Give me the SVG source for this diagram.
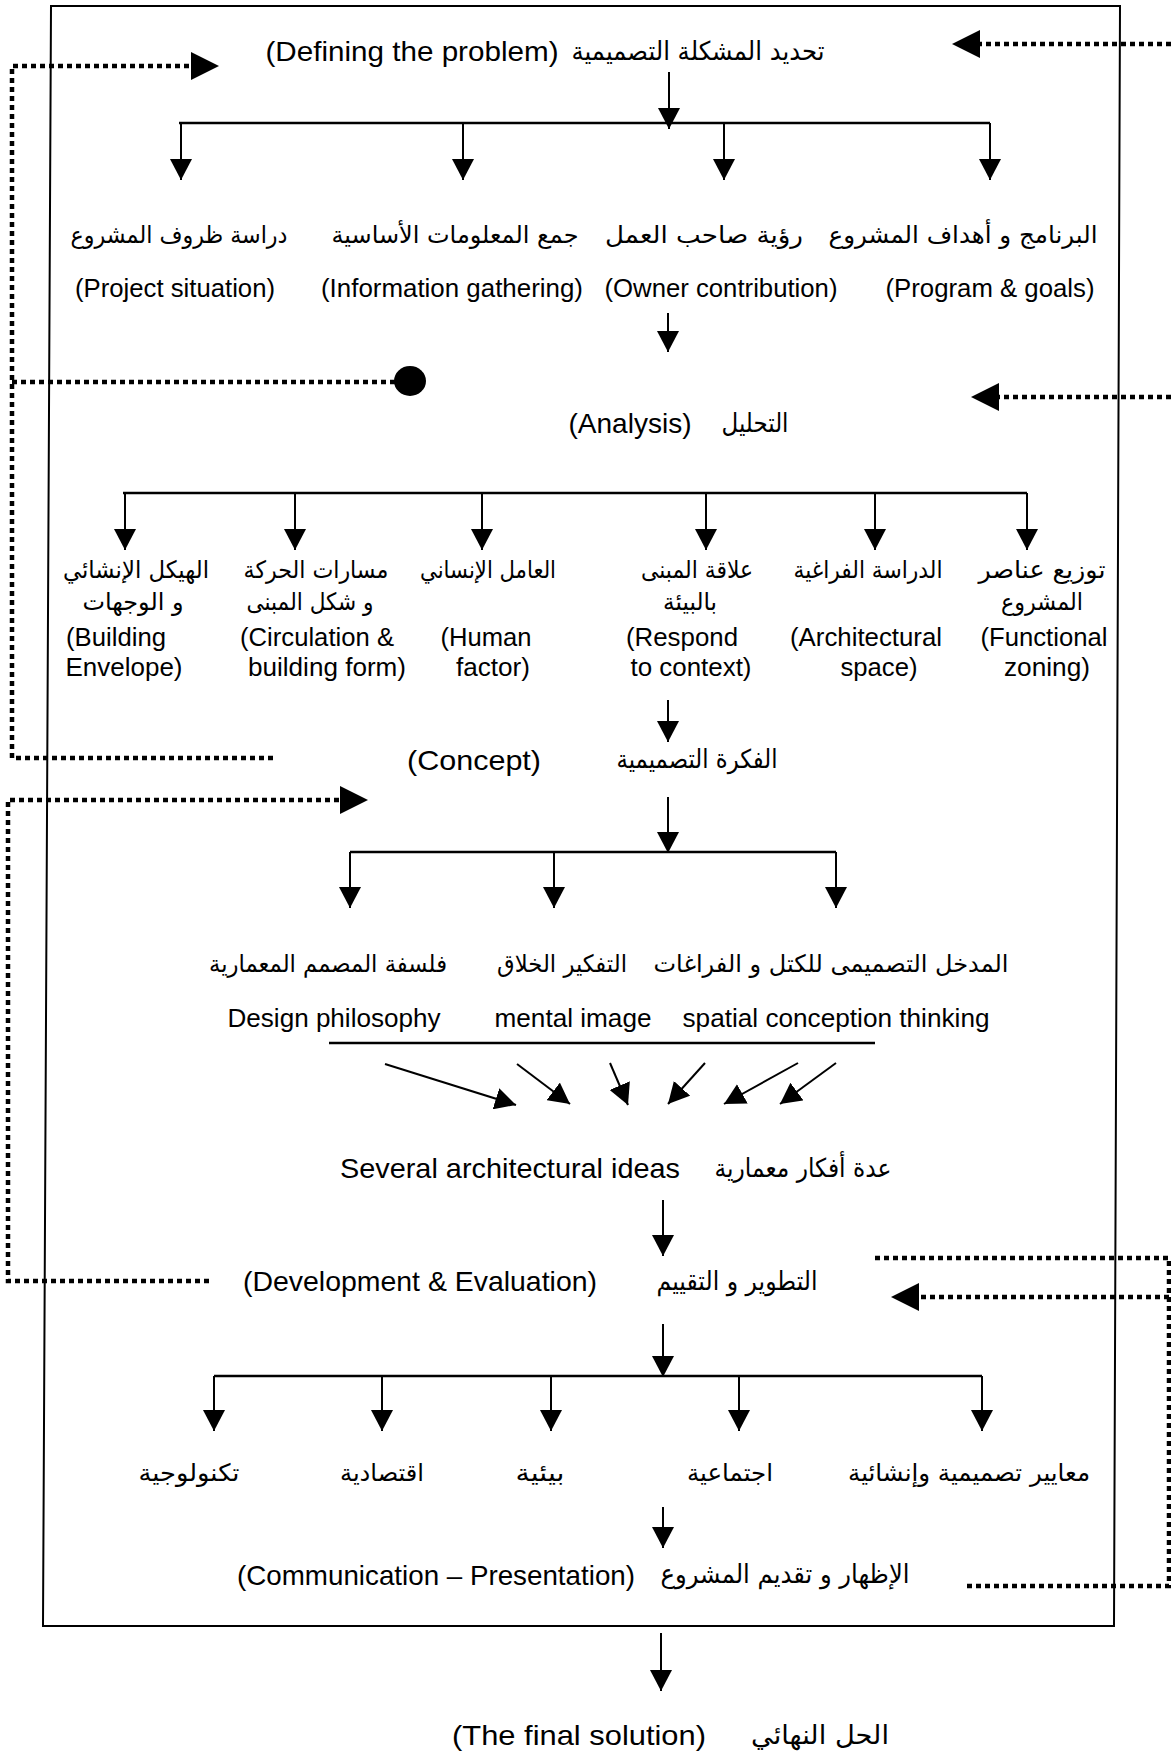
<svg xmlns="http://www.w3.org/2000/svg" width="1171" height="1754" viewBox="0 0 1171 1754">
<defs>
<style>
.en{font-family:"Liberation Sans",Arial,sans-serif;fill:#000;text-anchor:middle}
.t{font-size:28px}
.l{font-size:26px}
.ar{font-family:"DejaVu Sans",sans-serif;fill:#000;text-anchor:middle;font-size:24px}
.ln{stroke:#000;stroke-width:2;fill:none}
.br{stroke:#000;stroke-width:2.5;fill:none}
.ar-line{stroke:#000;stroke-width:2;fill:none;marker-end:url(#ah)}
.dot{stroke:#000;stroke-width:4.5;fill:none;stroke-dasharray:5 4}
.dotA{stroke:#000;stroke-width:4.5;fill:none;stroke-dasharray:5 4;marker-end:url(#fh)}
</style>
<marker id="ah" markerUnits="userSpaceOnUse" markerWidth="22" markerHeight="22" refX="21" refY="11" orient="auto">
<path d="M0,0 L21,11 L0,22 z" fill="#000"/>
</marker>
<marker id="fh" markerUnits="userSpaceOnUse" markerWidth="29" markerHeight="28" refX="0" refY="14" orient="auto">
<path d="M0,0 L28,14 L0,28 z" fill="#000"/>
</marker>
</defs>
<rect width="1171" height="1754" fill="#fff"/>

<g id="frame">
<path d="M51,6 L1120,6 L1114,1626 L43,1626 Z" class="ln"/>
</g>

<g id="connectors">
<line class="ar-line" x1="669" y1="72" x2="669" y2="129"/>
<line class="br" x1="179" y1="123" x2="990" y2="123"/>
<line class="ar-line" x1="181" y1="123" x2="181" y2="180"/>
<line class="ar-line" x1="463" y1="123" x2="463" y2="180"/>
<line class="ar-line" x1="724" y1="123" x2="724" y2="180"/>
<line class="ar-line" x1="990" y1="123" x2="990" y2="180"/>
<line class="ar-line" x1="668" y1="313" x2="668" y2="352"/>

<line class="br" x1="123" y1="493" x2="1027" y2="493"/>
<line class="ar-line" x1="125" y1="493" x2="125" y2="550"/>
<line class="ar-line" x1="295" y1="493" x2="295" y2="550"/>
<line class="ar-line" x1="482" y1="493" x2="482" y2="550"/>
<line class="ar-line" x1="706" y1="493" x2="706" y2="550"/>
<line class="ar-line" x1="875" y1="493" x2="875" y2="550"/>
<line class="ar-line" x1="1027" y1="493" x2="1027" y2="550"/>
<line class="ar-line" x1="668" y1="700" x2="668" y2="742"/>

<line class="ar-line" x1="668" y1="797" x2="668" y2="853"/>
<line class="br" x1="350" y1="852" x2="836" y2="852"/>
<line class="ar-line" x1="350" y1="852" x2="350" y2="908"/>
<line class="ar-line" x1="554" y1="852" x2="554" y2="908"/>
<line class="ar-line" x1="836" y1="852" x2="836" y2="908"/>

<line class="br" x1="329" y1="1043" x2="875" y2="1043"/>
<line class="ar-line" x1="385" y1="1064" x2="516" y2="1105"/>
<line class="ar-line" x1="517" y1="1064" x2="570" y2="1104"/>
<line class="ar-line" x1="610" y1="1063" x2="628" y2="1105"/>
<line class="ar-line" x1="705" y1="1063" x2="668" y2="1104"/>
<line class="ar-line" x1="798" y1="1063" x2="724" y2="1104"/>
<line class="ar-line" x1="836" y1="1063" x2="780" y2="1104"/>

<line class="ar-line" x1="663" y1="1200" x2="663" y2="1256"/>
<line class="ar-line" x1="663" y1="1324" x2="663" y2="1377"/>
<line class="br" x1="214" y1="1376" x2="982" y2="1376"/>
<line class="ar-line" x1="214" y1="1376" x2="214" y2="1431"/>
<line class="ar-line" x1="382" y1="1376" x2="382" y2="1431"/>
<line class="ar-line" x1="551" y1="1376" x2="551" y2="1431"/>
<line class="ar-line" x1="739" y1="1376" x2="739" y2="1431"/>
<line class="ar-line" x1="982" y1="1376" x2="982" y2="1431"/>
<line class="ar-line" x1="663" y1="1507" x2="663" y2="1548"/>
<line class="ar-line" x1="661" y1="1633" x2="661" y2="1691"/>

<!-- feedback dotted loops -->
<line class="dotA" x1="1171" y1="44" x2="980" y2="44"/>
<path class="dotA" d="M273,758 L12,758 L12,66 L191,66"/>
<line class="dot" x1="12" y1="382" x2="395" y2="382"/>
<ellipse cx="410" cy="381" rx="16" ry="15" fill="#000"/>
<line class="dotA" x1="1171" y1="397" x2="999" y2="397"/>
<path class="dotA" d="M209,1281 L8,1281 L8,800 L340,800"/>
<path class="dot" d="M875,1258 L1169,1258 L1169,1586 L963,1586"/>
<line class="dotA" x1="1169" y1="1297" x2="919" y2="1297"/>
</g>

<g id="n-define">
<text class="en t" x="412" y="61" textLength="293" lengthAdjust="spacingAndGlyphs">(Defining the problem)</text>
<text class="ar" x="698" y="60" style="font-size:26px" textLength="253" lengthAdjust="spacingAndGlyphs">تحديد المشكلة التصميمية</text>
</g>

<g id="n-situation">
<text class="ar" x="179" y="243" textLength="217" lengthAdjust="spacingAndGlyphs">دراسة ظروف المشروع</text>
<text class="en l" x="175" y="297" textLength="200" lengthAdjust="spacingAndGlyphs">(Project situation)</text>
</g>
<g id="n-info">
<text class="ar" x="455" y="243" textLength="247" lengthAdjust="spacingAndGlyphs">جمع المعلومات الأساسية</text>
<text class="en l" x="452" y="297" textLength="262" lengthAdjust="spacingAndGlyphs">(Information gathering)</text>
</g>
<g id="n-owner">
<text class="ar" x="704" y="243" textLength="198" lengthAdjust="spacingAndGlyphs">رؤية صاحب العمل</text>
<text class="en l" x="721" y="297" textLength="233" lengthAdjust="spacingAndGlyphs">(Owner contribution)</text>
</g>
<g id="n-program">
<text class="ar" x="963" y="243" textLength="269" lengthAdjust="spacingAndGlyphs">البرنامج و أهداف المشروع</text>
<text class="en l" x="990" y="297" textLength="209" lengthAdjust="spacingAndGlyphs">(Program &amp; goals)</text>
</g>

<g id="n-analysis">
<text class="en t" x="630" y="433" textLength="123" lengthAdjust="spacingAndGlyphs">(Analysis)</text>
<text class="ar" x="755" y="432" style="font-size:26px" textLength="67" lengthAdjust="spacingAndGlyphs">التحليل</text>
</g>

<g id="n-envelope">
<text class="ar" x="136" y="578" textLength="146" lengthAdjust="spacingAndGlyphs">الهيكل الإنشائي</text>
<text class="ar" x="133" y="610" textLength="101" lengthAdjust="spacingAndGlyphs">و الوجهات</text>
<text class="en l" x="116" y="646" textLength="100" lengthAdjust="spacingAndGlyphs">(Building</text>
<text class="en l" x="124" y="676" textLength="117" lengthAdjust="spacingAndGlyphs">Envelope)</text>
</g>
<g id="n-circulation">
<text class="ar" x="316" y="578" textLength="145" lengthAdjust="spacingAndGlyphs">مسارات الحركة</text>
<text class="ar" x="310" y="610" textLength="127" lengthAdjust="spacingAndGlyphs">و شكل المبنى</text>
<text class="en l" x="317" y="646" textLength="154" lengthAdjust="spacingAndGlyphs">(Circulation &amp;</text>
<text class="en l" x="327" y="676" textLength="158" lengthAdjust="spacingAndGlyphs">building form)</text>
</g>
<g id="n-human">
<text class="ar" x="488" y="578" textLength="136" lengthAdjust="spacingAndGlyphs">العامل الإنساني</text>
<text class="en l" x="486" y="646" textLength="91" lengthAdjust="spacingAndGlyphs">(Human</text>
<text class="en l" x="493" y="676" textLength="74" lengthAdjust="spacingAndGlyphs">factor)</text>
</g>
<g id="n-context">
<text class="ar" x="697" y="578" textLength="112" lengthAdjust="spacingAndGlyphs">علاقة المبنى</text>
<text class="ar" x="690" y="610" textLength="54" lengthAdjust="spacingAndGlyphs">بالبيئة</text>
<text class="en l" x="682" y="646" textLength="112" lengthAdjust="spacingAndGlyphs">(Respond</text>
<text class="en l" x="691" y="676" textLength="121" lengthAdjust="spacingAndGlyphs">to context)</text>
</g>
<g id="n-space">
<text class="ar" x="868" y="578" textLength="149" lengthAdjust="spacingAndGlyphs">الدراسة الفراغية</text>
<text class="en l" x="866" y="646" textLength="152" lengthAdjust="spacingAndGlyphs">(Architectural</text>
<text class="en l" x="879" y="676" textLength="77" lengthAdjust="spacingAndGlyphs">space)</text>
</g>
<g id="n-zoning">
<text class="ar" x="1042" y="578" textLength="127" lengthAdjust="spacingAndGlyphs">توزيع عناصر</text>
<text class="ar" x="1042" y="610" textLength="82" lengthAdjust="spacingAndGlyphs">المشروع</text>
<text class="en l" x="1044" y="646" textLength="127" lengthAdjust="spacingAndGlyphs">(Functional</text>
<text class="en l" x="1047" y="676" textLength="86" lengthAdjust="spacingAndGlyphs">zoning)</text>
</g>

<g id="n-concept">
<text class="en t" x="474" y="770" textLength="134" lengthAdjust="spacingAndGlyphs">(Concept)</text>
<text class="ar" x="697" y="768" style="font-size:26px" textLength="161" lengthAdjust="spacingAndGlyphs">الفكرة التصميمية</text>
</g>

<g id="n-philosophy">
<text class="ar" x="328" y="972" textLength="238" lengthAdjust="spacingAndGlyphs">فلسفة المصمم المعمارية</text>
<text class="en l" x="334" y="1027" textLength="213" lengthAdjust="spacingAndGlyphs">Design philosophy</text>
</g>
<g id="n-mental">
<text class="ar" x="562" y="972" textLength="130" lengthAdjust="spacingAndGlyphs">التفكير الخلاق</text>
<text class="en l" x="573" y="1027" textLength="157" lengthAdjust="spacingAndGlyphs">mental image</text>
</g>
<g id="n-spatial">
<text class="ar" x="831" y="972" textLength="355" lengthAdjust="spacingAndGlyphs">المدخل التصميمى للكتل و الفراغات</text>
<text class="en l" x="836" y="1027" textLength="307" lengthAdjust="spacingAndGlyphs">spatial conception thinking</text>
</g>

<g id="n-ideas">
<text class="en t" x="510" y="1178" textLength="340" lengthAdjust="spacingAndGlyphs">Several architectural ideas</text>
<text class="ar" x="803" y="1177" style="font-size:26px" textLength="177" lengthAdjust="spacingAndGlyphs">عدة أفكار معمارية</text>
</g>

<g id="n-dev">
<text class="en t" x="420" y="1291" textLength="354" lengthAdjust="spacingAndGlyphs">(Development &amp; Evaluation)</text>
<text class="ar" x="737" y="1290" style="font-size:26px" textLength="161" lengthAdjust="spacingAndGlyphs">التطوير و التقييم</text>
</g>

<g id="n-tech"><text class="ar" x="189" y="1481" textLength="101" lengthAdjust="spacingAndGlyphs">تكنولوجية</text></g>
<g id="n-econ"><text class="ar" x="382" y="1481" textLength="84" lengthAdjust="spacingAndGlyphs">اقتصادية</text></g>
<g id="n-env"><text class="ar" x="540" y="1481" textLength="49" lengthAdjust="spacingAndGlyphs">بيئية</text></g>
<g id="n-social"><text class="ar" x="730" y="1481" textLength="86" lengthAdjust="spacingAndGlyphs">اجتماعية</text></g>
<g id="n-criteria"><text class="ar" x="969" y="1481" textLength="242" lengthAdjust="spacingAndGlyphs">معايير تصميمية وإنشائية</text></g>

<g id="n-comm">
<text class="en t" x="436" y="1585" textLength="398" lengthAdjust="spacingAndGlyphs">(Communication – Presentation)</text>
<text class="ar" x="785" y="1583" style="font-size:26px" textLength="249" lengthAdjust="spacingAndGlyphs">الإظهار و تقديم المشروع</text>
</g>

<g id="n-final">
<text class="en t" x="579" y="1745" textLength="254" lengthAdjust="spacingAndGlyphs">(The final solution)</text>
<text class="ar" x="820" y="1744" style="font-size:26px" textLength="138" lengthAdjust="spacingAndGlyphs">الحل النهائي</text>
</g>
</svg>
